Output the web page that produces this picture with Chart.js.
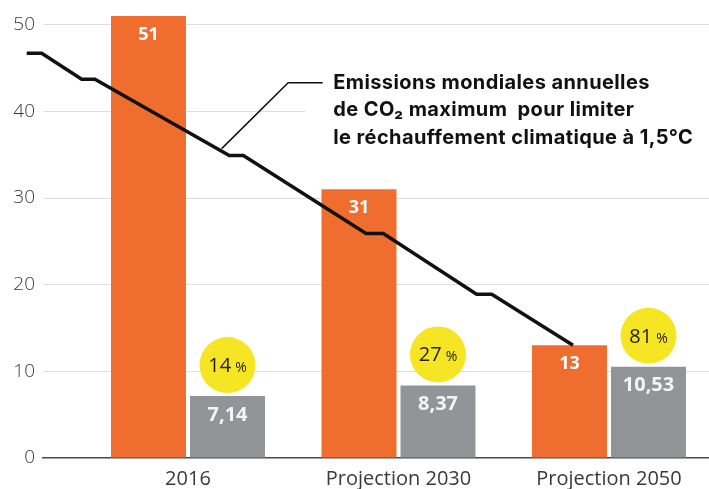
<!DOCTYPE html>
<html lang="fr">
<head>
<meta charset="utf-8">
<title>Emissions mondiales de CO2</title>
<script src="https://cdn.jsdelivr.net/npm/chart.js@4/dist/chart.umd.min.js"></script>
<style>
  html, body { margin: 0; padding: 0; background: #fff; }
  #wrap { position: relative; width: 709px; height: 489px; }
</style>
</head>
<body>
<div id="wrap"><canvas id="co2Chart"></canvas></div>
<script>
// Données (Gt de CO2)
const categories = ['2016', 'Projection 2030', 'Projection 2050'];
const emissions = [51, 31, 13];
const captured = [7.14, 8.37, 10.53];
const shares = ['14', '27', '81'];
const yTicks = [0, 10, 20, 30, 40, 50];

// Trajectoire 1,5°C : position sur l'axe des catégories et valeur
const pathX = [-0.766, -0.695, -0.505, -0.442, 0.196, 0.263, 0.846, 0.928, 1.371, 1.443, 1.829];
const pathY = [46.7, 46.7, 43.7, 43.7, 34.9, 34.9, 25.9, 25.9, 18.9, 18.9, 13];

// Légende de la courbe
const noteLines = ['Emissions mondiales annuelles', 'de CO₂ maximum  pour limiter', 'le réchauffement climatique à 1,5°C'];
const noteLink = [{ x: 0.16, y: 35.7 }, { x: 0.476, y: 43.3 }, { x: 0.64, y: 43.3 }];

const ORANGE = '#ee6d2f';
const GREY = '#939497';
const YELLOW = '#f6e522';
const FONT = "'Open Sans', 'Liberation Sans', sans-serif";
const NOTE_FONT = "Inter, 'Open Sans', sans-serif";

const fmt = v => String(v).replace('.', ',');

const overlay = {
    id: 'overlay',
    afterDraw(chart) {
        const { ctx, scales: { x, y } } = chart;
        ctx.save();

        // Etiquettes des barres
        [0, 1].forEach(d => {
            const meta = chart.getDatasetMeta(d);
            const values = d === 0 ? emissions : captured;
            meta.data.forEach((bar, i) => {
                ctx.font = d === 0 ? 'bold 18px ' + FONT : 'bold 20px ' + FONT;
                ctx.fillStyle = d === 0 ? '#fff' : '#f4f4f4';
                ctx.textAlign = 'center';
                ctx.textBaseline = 'middle';
                ctx.fillText(fmt(values[i]), bar.x, bar.y + 19);
            });
        });

        // Pastilles jaunes
        const greyMeta = chart.getDatasetMeta(1);
        greyMeta.data.forEach((bar, i) => {
            const cx = bar.x;
            const cy = bar.y - 31;
            ctx.fillStyle = YELLOW;
            ctx.beginPath();
            ctx.arc(cx, cy, 28, 0, Math.PI * 2);
            ctx.fill();

            ctx.fillStyle = '#1e1e1e';
            ctx.textBaseline = 'alphabetic';
            ctx.textAlign = 'left';
            ctx.font = '20px ' + FONT;
            const w1 = ctx.measureText(shares[i]).width;
            ctx.font = '14px ' + FONT;
            const w2 = ctx.measureText('%').width;
            const start = cx - (w1 + 4 + w2) / 2;
            ctx.font = '20px ' + FONT;
            ctx.fillText(shares[i], start, cy + 7);
            ctx.font = '14px ' + FONT;
            ctx.fillText('%', start + w1 + 4, cy + 7);
        });

        // Légende de la trajectoire
        const tx = x.getPixelForValue(0.69);
        const ty = y.getPixelForValue(noteLink[1].y);
        ctx.fillStyle = '#fff';
        ctx.fillRect(tx - 28, ty - 20, chart.width - tx + 28, 88);

        ctx.strokeStyle = '#111';
        ctx.lineWidth = 1.5;
        ctx.beginPath();
        noteLink.forEach((p, i) => {
            const px = x.getPixelForValue(p.x);
            const py = y.getPixelForValue(p.y);
            i === 0 ? ctx.moveTo(px, py) : ctx.lineTo(px, py);
        });
        ctx.stroke();

        ctx.fillStyle = '#111';
        ctx.font = 'bold 20px ' + NOTE_FONT;
        ctx.letterSpacing = '0.4px';
        ctx.textAlign = 'left';
        ctx.textBaseline = 'alphabetic';
        noteLines.forEach((line, i) => {
            ctx.fillText(line, tx, ty + 6 + i * 27.5);
        });

        ctx.restore();
    }
};

const ctx = document.getElementById('co2Chart').getContext('2d');
new Chart(ctx, {
    type: 'bar',
    data: {
        datasets: [
            {
                label: 'Emissions',
                data: emissions.map((v, i) => ({ x: i, y: v })),
                backgroundColor: ORANGE,
                categoryPercentage: 0.7506,
                barPercentage: 0.949,
                order: 2
            },
            {
                label: 'Captées',
                data: captured.map((v, i) => ({ x: i, y: v })),
                backgroundColor: GREY,
                categoryPercentage: 0.7506,
                barPercentage: 0.949,
                order: 2
            },
            {
                type: 'line',
                label: 'Trajectoire 1,5°C',
                data: pathX.map((v, i) => ({ x: v, y: pathY[i] })),
                borderColor: '#111',
                borderWidth: 3.5,
                pointRadius: 0,
                tension: 0,
                clip: false,
                order: 1
            }
        ]
    },
    options: {
        responsive: true,
        maintainAspectRatio: false,
        animation: false,
        layout: { padding: 0 },
        plugins: {
            legend: { display: false },
            tooltip: { enabled: false }
        },
        scales: {
            x: {
                type: 'linear',
                bounds: 'data',
                offset: false,
                z: 1,
                afterDataLimits: s => { s.min = -0.6888; s.max = 2.4751; },
                afterBuildTicks: s => { s.ticks = categories.map((_, i) => ({ value: i })); },
                afterFit: s => { s.height = 31; s.paddingLeft = 0; s.paddingRight = 0; },
                grid: { display: false, drawTicks: false, offset: false },
                border: { display: true, color: '#4a4a4a', width: 1.5 },
                ticks: {
                    padding: 9,
                    color: '#3a3a3a',
                    font: { family: FONT, size: 20 },
                    callback: v => categories[v] ?? ''
                }
            },
            y: {
                min: 0,
                max: 52.85,
                z: 1,
                afterBuildTicks: s => { s.ticks = yTicks.map(v => ({ value: v })); },
                afterFit: s => { s.width = 43; s.paddingTop = 0; s.paddingBottom = 0; },
                grid: {
                    drawTicks: false,
                    color: c => c.tick && c.tick.value === 0 ? 'rgba(0,0,0,0)' : 'rgba(0,0,0,0.13)',
                    lineWidth: 1
                },
                border: { display: false },
                ticks: {
                    padding: 8,
                    color: '#3a3a3a',
                    font: { family: FONT, size: 19, weight: 300 }
                }
            }
        }
    },
    plugins: [overlay]
});
</script>
</body>
</html>
